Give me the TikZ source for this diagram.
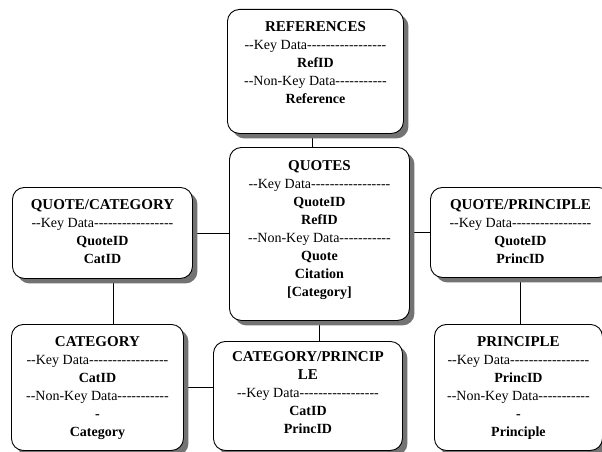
\documentclass[tikz,border=0pt]{standalone}
\usepackage{fontspec}
\setmainfont{Liberation Serif}
\usetikzlibrary{shadows}
\pgfdeclarelayer{bg}
\pgfsetlayers{bg,main}
\newcommand\ttl{\fontsize{15}{18}\selectfont\bfseries}
\newcommand\hy{-\kern0pt}
\newcommand\hyf{\hy\hy\hy\hy\hy}
\newcommand\kd{{\mdseries \hy\hy Key Data\hyf\hyf\hyf\hy\hy}}
\newcommand\nkd{{\mdseries \hy\hy Non\hy Key Data\hyf\hyf\hy}}
\begin{document}
\begin{tikzpicture}[x=1pt,y=-1pt,
  entity/.style={draw=black, fill=white, line width=0.9pt, rounded corners=12pt,
    anchor=north west, inner sep=0pt,
    drop shadow={shadow xshift=5pt, shadow yshift=-5pt, fill=black!55, opacity=1}},
  txt/.style={anchor=north, align=center, inner sep=3pt,
    font=\fontsize{14}{18}\selectfont\bfseries},
  link/.style={draw=black, line width=0.9pt}]
\clip (0,0) rectangle (602,452);
% boxes
\node[entity, minimum width=176pt, minimum height=124pt] (ref) at (227,9) {};
\node[entity, minimum width=180pt, minimum height=173pt] (quotes) at (229,147) {};
\node[entity, minimum width=180pt, minimum height=91pt] (qc) at (12,187) {};
\node[entity, minimum width=180pt, minimum height=90pt] (qp) at (430,187) {};
\node[entity, minimum width=172pt, minimum height=126pt] (cat) at (11,324) {};
\node[entity, minimum width=189pt, minimum height=109pt] (cp) at (213,341) {};
\node[entity, minimum width=168pt, minimum height=126pt] (prin) at (434,324) {};
% texts
\node[txt] (ref-t) at ([yshift=-9pt]ref.north) {{\ttl REFERENCES}\\ \kd\\ RefID\\ \nkd\\ Reference};
\node[txt] (quotes-t) at ([yshift=-10pt]quotes.north) {{\ttl QUOTES}\\ \kd\\ QuoteID\\ RefID\\ \nkd\\ Quote\\ Citation\\ {[Category]}};
\node[txt] (qc-t) at ([yshift=-9pt]qc.north) {{\ttl QUOTE/CATEGORY}\\ \kd\\ QuoteID\\ CatID};
\node[txt] (qp-t) at ([yshift=-9pt]qp.north) {{\ttl QUOTE/PRINCIPLE}\\ \kd\\ QuoteID\\ PrincID};
\node[txt] (cat-t) at ([yshift=-9pt]cat.north) {{\ttl CATEGORY}\\ \kd\\ CatID\\ \nkd\\ -\\ Category};
\node[txt] (cp-t) at ([yshift=-7pt]cp.north) {{\ttl CATEGORY/PRINCIP}\\ {\ttl LE}\\ \kd\\ CatID\\ PrincID};
\node[txt] (prin-t) at ([yshift=-9pt]prin.north) {{\ttl PRINCIPLE}\\ \kd\\ PrincID\\ \nkd\\ -\\ Principle};
% connectors
\begin{pgfonlayer}{bg}
\fill[white] (0,0) rectangle (602,452);
\draw[link] ([xshift=-3pt]ref.south) -- ([xshift=-3pt]ref.south |- quotes.north);
\draw[link] (qc.east) -- (qc.east -| quotes.west);
\draw[link] (qp.west) -- (qp.west -| quotes.east);
\draw[link] ([xshift=11pt]qc.south) -- ([xshift=11pt]qc.south |- cat.north);
\draw[link] (quotes.south) -- (quotes.south |- cp.north);
\draw[link] (qp.south) -- (qp.south |- prin.north);
\draw[link] (cat.east) -- (cat.east -| cp.west);
\end{pgfonlayer}
\end{tikzpicture}
\end{document}
